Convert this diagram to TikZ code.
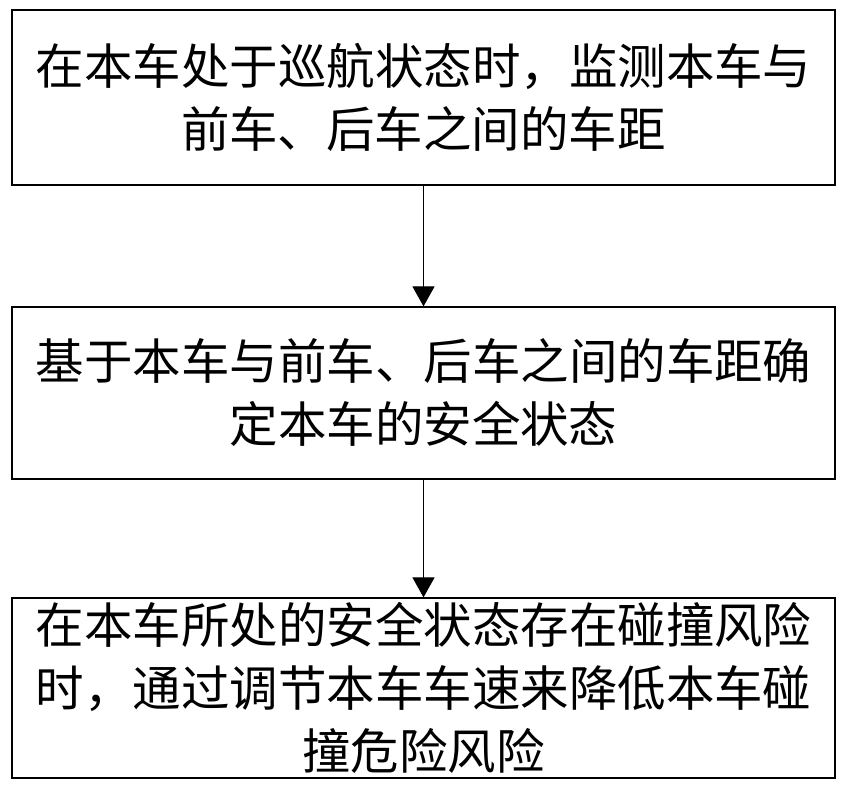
\documentclass[tikz,border=0pt]{standalone}
\usepackage{fontspec}
\newfontfamily\cjk{Noto Sans CJK SC}
\usetikzlibrary{arrows.meta, positioning}

\begin{document}
\begin{tikzpicture}[
    x=1pt, y=1pt,
    stepbox/.style={rectangle, draw=black, line width=1.2pt, minimum width=823pt, inner sep=2pt, align=center, font=\cjk\fontsize{48.5}{63}\selectfont},
    arrow/.style={line width=1.2pt, -{Triangle[length=20pt, width=22pt]}}
]
\useasboundingbox (0,0) rectangle (846,786);

\node (monitor) [stepbox, minimum height=175pt] at (423.5,688.5) {在本车处于巡航状态时，监测本车与\\前车、后车之间的车距};
\node (state) [stepbox, minimum height=172pt] at (423.5,393) {基于本车与前车、后车之间的车距确\\定本车的安全状态};
\node (adjust) [stepbox, minimum height=180pt] at (423.5,98) {在本车所处的安全状态存在碰撞风险\\时，通过调节本车车速来降低本车碰\\撞危险风险};

\draw [arrow] (monitor) -- (state);
\draw [arrow] (state) -- (adjust);

\end{tikzpicture}
\end{document}
